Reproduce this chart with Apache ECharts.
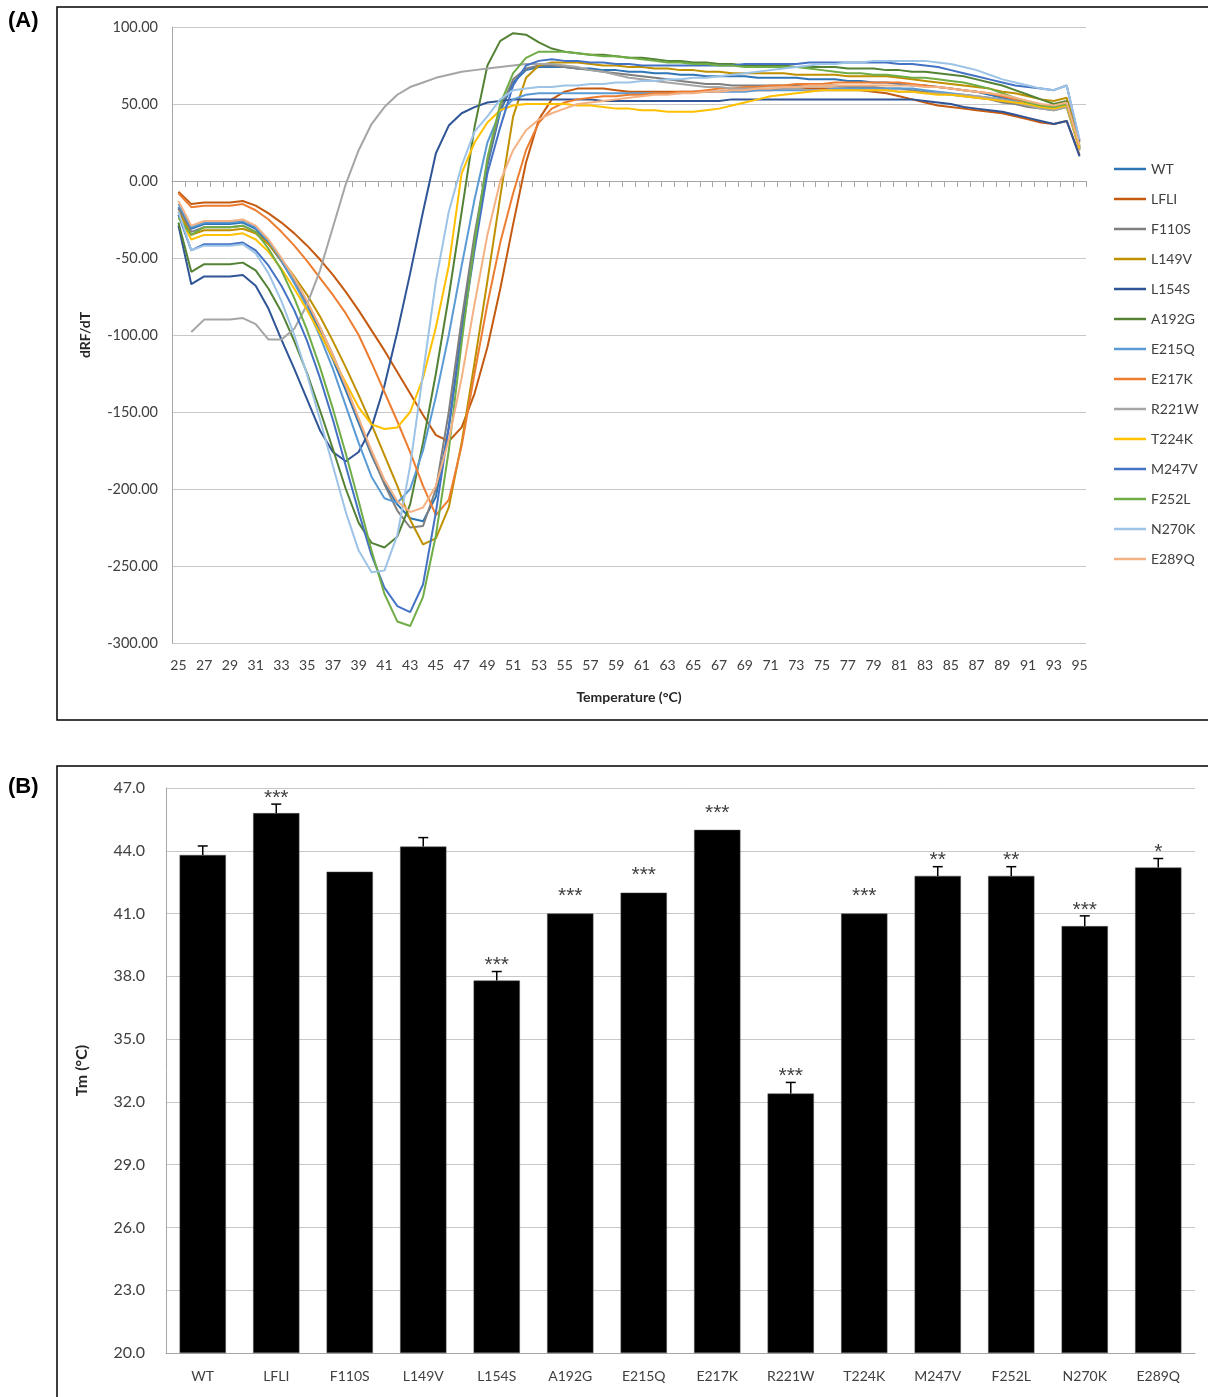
<!DOCTYPE html>
<html>
<head>
<meta charset="utf-8">
<script src="https://cdn.jsdelivr.net/npm/echarts@6/dist/echarts.min.js"></script>
<style>
html,body{margin:0;padding:0;background:#fff;}
#c{width:1208px;height:1397px;}
</style>
</head>
<body>
<div id="c"></div>
<script>
// ---------- Panel A data ----------
const temps = [25,26,27,28,29,30,31,32,33,34,35,36,37,38,39,40,41,42,43,44,45,46,47,48,49,50,51,52,53,54,55,56,57,58,59,60,61,62,63,64,65,66,67,68,69,70,71,72,73,74,75,76,77,78,79,80,81,82,83,84,85,86,87,88,89,90,91,92,93,94,95];
const yTicksA = [-300,-250,-200,-150,-100,-50,0,50,100];

const WT = [-17,-31,-28,-28,-28,-27,-31,-40,-52,-66, -81,-98,-116,-136,-157,-178,-196,-210,-219,-221, -205,-160,-97,-38,10,45,64,72,74,74, 74,73,73,72,72,71,71,70,70,69, 69,68,68,68,68,67,67,67,67,66, 66,66,65,65,64,64,63,62,62,61, 60,59,58,56,54,52,50,48,47,49, 21];
const LFLI = [-7,-15,-14,-14,-14,-13,-16,-21,-27,-34, -42,-51,-61,-72,-84,-97,-110,-124,-138,-152, -165,-169,-160,-138,-108,-70,-28,12,40,53, 58,60,60,60,59,58,58,58,58,58, 58,58,58,59,59,59,59,60,60,60, 60,60,60,59,58,57,55,53,51,49, 48,47,46,45,44,42,40,38,37,39, 17];
const F110S = [-18,-33,-30,-30,-30,-29,-33,-41,-52,-65, -79,-95,-113,-133,-155,-177,-197,-214,-225,-224, -200,-150,-90,-35,12,47,66,73,75,75, 74,73,72,71,70,69,68,67,66,65, 64,63,63,62,62,62,62,62,62,62, 62,62,61,61,61,60,60,59,58,57, 56,55,54,53,51,50,48,47,46,48, 22];
const L149V = [-20,-35,-32,-32,-32,-31,-34,-41,-51,-62, -74,-88,-104,-121,-139,-158,-178,-198,-220,-236, -232,-212,-170,-118,-65,-10,42,67,75,77, 77,77,76,75,75,74,74,73,73,72, 72,71,71,70,70,70,70,70,69,69, 69,69,68,68,68,68,67,66,65,64, 63,62,61,60,58,57,55,53,52,54, 25];
const L154S = [-29,-67,-62,-62,-62,-61,-68,-83,-103,-122, -142,-162,-176,-182,-176,-160,-133,-98,-60,-20, 18,36,44,48,51,52,53,53,53,53, 53,53,53,52,52,52,52,52,52,52, 52,52,52,53,53,53,53,53,53,53, 53,53,53,53,53,53,53,53,52,51, 50,48,47,46,45,43,41,39,37,39, 16];
const A192G = [-27,-59,-54,-54,-54,-53,-58,-70,-85,-104, -125,-149,-174,-200,-222,-235,-238,-231,-210,-170, -125,-75,-20,35,75,91,96,95,90,86, 84,83,82,82,81,80,80,79,78,78, 77,77,76,76,75,75,75,75,74,74, 74,74,73,73,73,72,72,71,71,70, 69,68,66,64,62,59,56,53,50,52, 21];
const E215Q = [-15,-30,-27,-27,-27,-26,-30,-39,-51,-66, -82,-101,-122,-146,-170,-192,-206,-209,-200,-175, -140,-100,-55,-12,25,45,53,56,57,57, 57,57,57,57,57,57,57,57,57,57, 58,58,58,58,58,59,59,59,59,59, 59,60,60,60,60,60,60,60,59,58, 57,56,55,54,53,52,50,48,47,49, 22];
const E217K = [-8,-17,-16,-16,-16,-15,-19,-25,-33,-42, -52,-63,-74,-86,-100,-118,-137,-156,-176,-198, -217,-207,-172,-125,-80,-40,-8,20,38,47, 51,53,54,55,55,56,56,57,57,58, 58,59,60,60,61,61,62,62,63,63, 63,64,64,64,64,64,64,63,62,61, 60,59,58,57,55,53,51,49,48,50, 20];
const R221W = [null,-98,-90,-90,-90,-89,-93,-103,-103,-96, -80,-58,-30,-2,20,37,48,56,61,64, 67,69,71,72,73,74,75,76,76,76, 75,74,72,71,69,67,66,65,64,63, 62,61,61,60,60,60,60,60,60,59, 59,59,59,59,59,59,58,58,57,57, 56,56,55,54,53,51,49,47,46,48, 20];
const T224K = [-22,-38,-35,-35,-35,-34,-38,-46,-57,-70, -84,-99,-115,-131,-147,-158,-161,-160,-150,-128, -95,-55,5,25,38,46,49,50,50,50, 50,49,49,48,47,47,46,46,45,45, 45,46,47,49,51,53,55,56,57,58, 59,59,59,59,59,59,58,58,57,56, 56,55,54,53,52,51,50,48,47,49, 21];
const M247V = [-22,-45,-41,-41,-41,-40,-45,-55,-68,-84, -104,-128,-155,-185,-215,-243,-264,-276,-280,-262, -215,-160,-100,-45,5,35,62,75,78,79, 78,78,77,77,76,76,75,75,75,75, 75,75,75,75,76,76,76,76,76,77, 77,77,77,77,77,77,76,76,75,74, 72,70,68,66,64,62,61,60,59,62, 26];
const F252L = [-24,-35,-30,-30,-30,-29,-33,-44,-58,-76, -97,-121,-148,-177,-208,-240,-268,-286,-289,-270, -230,-175,-105,-40,15,50,70,80,84,84, 84,83,82,81,81,80,79,78,77,77, 76,76,75,75,74,74,74,74,74,73, 72,71,70,70,69,69,68,67,67,66, 65,64,62,60,57,54,51,49,48,50, 23];
const N270K = [-20,-45,-42,-42,-42,-41,-47,-60,-78,-100, -126,-155,-185,-215,-240,-254,-253,-230,-185,-125, -65,-20,10,32,42,53,59,60,61,61, 62,62,63,63,64,64,65,65,66,66, 67,67,68,69,70,71,72,73,74,75, 76,76,77,77,78,78,78,78,78,77, 76,74,72,69,66,64,62,60,59,62, 27];
const E289Q = [-13,-29,-26,-26,-26,-25,-29,-38,-50,-63, -78,-95,-113,-133,-154,-175,-194,-208,-215,-212, -198,-168,-128,-80,-35,0,20,33,40,44, 47,50,51,52,53,54,55,56,56,57, 57,58,58,59,59,60,60,61,61,62, 62,62,62,62,62,62,62,62,61,61, 60,59,58,57,56,54,52,50,49,51, 23];

const seriesNames = ['WT','LFLI','F110S','L149V','L154S','A192G','E215Q','E217K','R221W','T224K','M247V','F252L','N270K','E289Q'];
const seriesValues = [WT,LFLI,F110S,L149V,L154S,A192G,E215Q,E217K,R221W,T224K,M247V,F252L,N270K,E289Q];
const seriesColors = ['#2E75B6','#C55A11','#7F7F7F','#BF9000','#2F5597','#548235','#5B9BD5','#ED7D31','#A5A5A5','#FFC000','#4472C4','#70AD47','#9DC3E6','#F4B183'];

// ---------- Panel B data ----------
const mutants = ['WT','LFLI','F110S','L149V','L154S','A192G','E215Q','E217K','R221W','T224K','M247V','F252L','N270K','E289Q'];
const tm = [43.8,45.8,43.0,44.2,37.8,41.0,42.0,45.0,32.4,41.0,42.8,42.8,40.4,43.2];
const tmErr = [0.43,0.43,0,0.43,0.43,0,0,0,0.53,0,0.44,0.44,0.49,0.43];
const stars = ['','***','','','***','***','***','***','***','***','**','**','***','*'];
const yTicksB = [20.0,23.0,26.0,29.0,32.0,35.0,38.0,41.0,44.0,47.0];
const baseB = yTicksB[0];

const FONT = 'Lato, "Open Sans", sans-serif';
const chart = echarts.init(document.getElementById('c'));

const lineSeries = seriesNames.map((n, i) => ({
  name: n, type: 'line', xAxisIndex: 0, yAxisIndex: 0,
  data: seriesValues[i], symbol: 'none', smooth: false,
  lineStyle: { width: 2, color: seriesColors[i] },
  itemStyle: { color: seriesColors[i] },
  connectNulls: false, animation: false
}));

const option = {
  animation: false,
  backgroundColor: '#fff',
  textStyle: { fontFamily: FONT },
  grid: [
    { left: 172, right: 122, top: 27, bottom: 1397 - 643, containLabel: false },
    { left: 166, right: 13, top: 788, bottom: 1397 - 1353, containLabel: false }
  ],
  legend: {
    data: seriesNames, orient: 'vertical', left: 1114, top: 162,
    icon: 'rect', itemWidth: 32, itemHeight: 2.5, itemGap: 16,
    textStyle: { fontSize: 14, color: '#404040', fontFamily: FONT },
    padding: 0
  },
  xAxis: [
    { type: 'category', gridIndex: 0, data: temps, boundaryGap: true, position: 'bottom',
      axisLine: { show: false, onZero: false }, axisTick: { show: false },
      axisLabel: { interval: 1, fontSize: 14, color: '#404040', margin: 15, fontFamily: FONT },
      name: 'Temperature (°C)', nameLocation: 'middle', nameGap: 47,
      nameTextStyle: { fontWeight: 'bold', fontSize: 14, color: '#262626', fontFamily: FONT } },
    { type: 'category', gridIndex: 0, data: temps, boundaryGap: true, position: 'top',
      axisLine: { show: true, onZero: true, lineStyle: { color: '#a6a6a6', width: 1 } },
      axisTick: { show: true, inside: true, length: 6, interval: 0, lineStyle: { color: '#a6a6a6' } },
      axisLabel: { show: false }, splitLine: { show: false } },
    { type: 'category', gridIndex: 1, data: mutants, boundaryGap: true,
      axisLine: { show: true, lineStyle: { color: '#a6a6a6' } }, axisTick: { show: false },
      axisLabel: { fontSize: 14, color: '#404040', margin: 16, fontFamily: FONT } }
  ],
  yAxis: [
    { type: 'value', gridIndex: 0, min: -300, max: 100, interval: 50,
      axisLine: { show: true, lineStyle: { color: '#a6a6a6' } }, axisTick: { show: false },
      axisLabel: { formatter: v => v.toFixed(2), fontSize: 14.5, color: '#404040', margin: 14, fontFamily: FONT },
      splitLine: { lineStyle: { color: '#c8c8c8', width: 1 } },
      name: 'dRF/dT', nameLocation: 'middle', nameGap: 80, nameRotate: 90,
      nameTextStyle: { fontWeight: 'bold', fontSize: 14, color: '#262626', fontFamily: FONT } },
    { type: 'value', gridIndex: 1, min: 0, max: yTicksB[yTicksB.length - 1] - baseB, interval: 3,
      axisLine: { show: true, lineStyle: { color: '#a6a6a6' } }, axisTick: { show: false },
      axisLabel: { formatter: v => (v + baseB).toFixed(1), fontSize: 16, color: '#404040', margin: 21, fontFamily: FONT },
      splitLine: { lineStyle: { color: '#c8c8c8', width: 1 } },
      name: 'Tm (°C)', nameLocation: 'middle', nameGap: 76, nameRotate: 90,
      nameTextStyle: { fontWeight: 'bold', fontSize: 16, color: '#262626', fontFamily: FONT } }
  ],
  series: lineSeries.concat([
    { name: 'Tm', type: 'bar', xAxisIndex: 2, yAxisIndex: 1,
      data: tm.map(v => +(v - baseB).toFixed(2)), barWidth: '63%',
      itemStyle: { color: '#000', borderColor: '#555', borderWidth: 0.5 }, animation: false },
    { name: 'err', type: 'custom', xAxisIndex: 2, yAxisIndex: 1, z: 5,
      data: tm.map((v, i) => [i, v - baseB, tmErr[i]]),
      renderItem: function (params, api) {
        const i = api.value(0), m = api.value(1), e = api.value(2);
        const pBar = api.coord([i, m]);
        const pTop = api.coord([i, m + e]);
        const children = [];
        if (e > 0) {
          children.push({ type: 'line', shape: { x1: pTop[0], y1: pBar[1], x2: pTop[0], y2: pTop[1] }, style: { stroke: '#000', lineWidth: 1.5 } });
          children.push({ type: 'line', shape: { x1: pTop[0] - 5, y1: pTop[1], x2: pTop[0] + 5, y2: pTop[1] }, style: { stroke: '#000', lineWidth: 1.5 } });
        }
        const s = stars[params.dataIndex];
        if (s) {
          children.push({ type: 'text', style: { text: s, x: pTop[0], y: pTop[1] - (e > 0 ? 11 : 22) + 5, align: 'center', verticalAlign: 'middle', font: '21px "Liberation Sans", Arial, sans-serif', fill: '#404040' } });
        }
        return { type: 'group', children: children };
      }, animation: false }
  ]),
  graphic: [
    { type: 'rect', shape: { x: 57, y: 7, width: 1170, height: 713 }, style: { fill: 'none', stroke: '#000', lineWidth: 1.5 }, silent: true },
    { type: 'rect', shape: { x: 57, y: 766, width: 1170, height: 660 }, style: { fill: 'none', stroke: '#000', lineWidth: 1.5 }, silent: true },
    { type: 'text', left: 8, top: 10, style: { text: '(A)', font: 'bold 22px "Liberation Sans", Arial, sans-serif', fill: '#000' } },
    { type: 'text', left: 8, top: 776, style: { text: '(B)', font: 'bold 22px "Liberation Sans", Arial, sans-serif', fill: '#000' } }
  ]
};
chart.setOption(option);
</script>
</body>
</html>
